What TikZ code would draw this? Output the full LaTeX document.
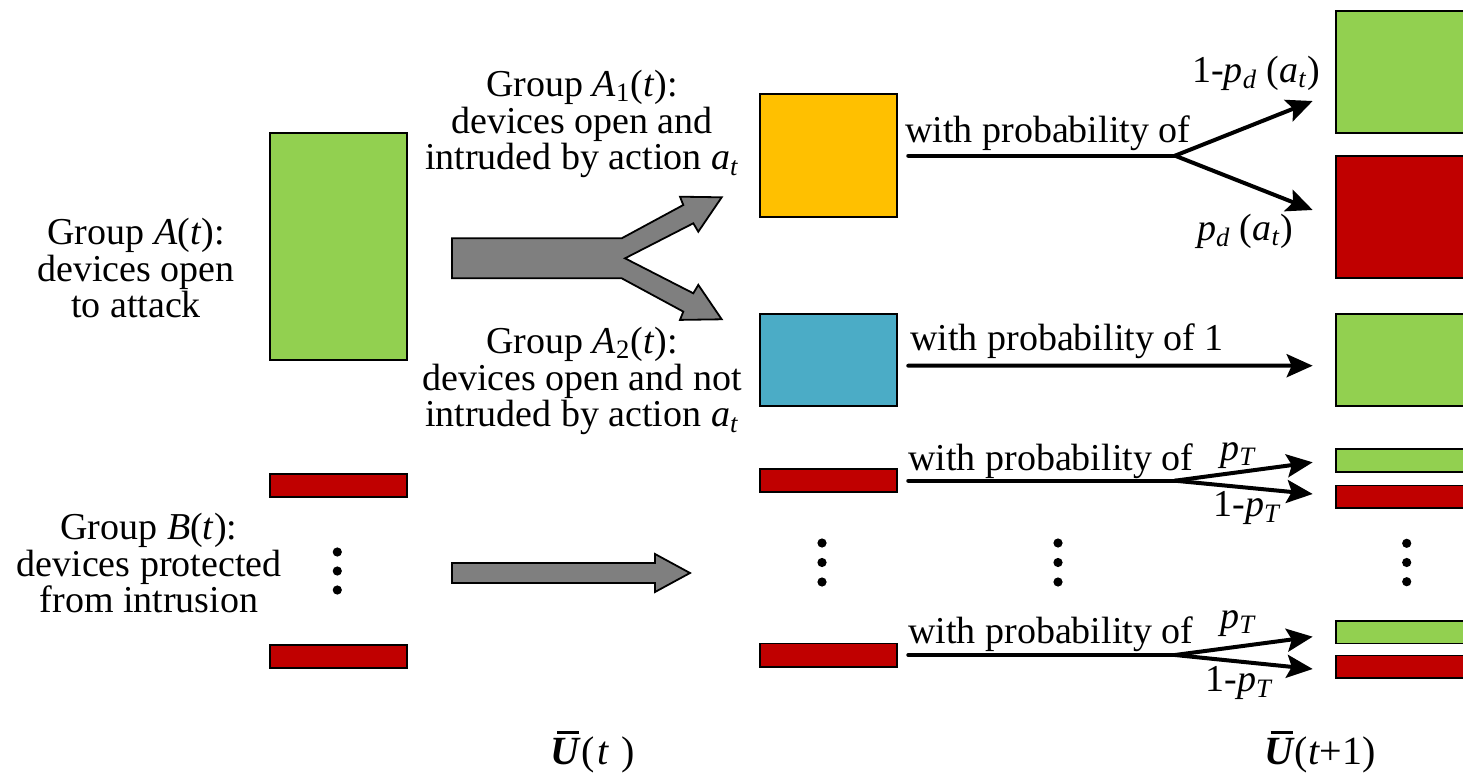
\documentclass[tikz,border=0pt]{standalone}
\usepackage{fontspec}
\setmainfont{LiberationSerif}[Extension=.ttf,UprightFont=*-Regular,BoldFont=*-Bold,ItalicFont=*-Italic,BoldItalicFont=*-BoldItalic]
\usetikzlibrary{arrows.meta,calc}
\definecolor{cgreen}{HTML}{92D050}
\definecolor{cred}{HTML}{C00000}
\definecolor{corange}{HTML}{FFC000}
\definecolor{cblue}{HTML}{4BACC6}
\definecolor{cgray}{HTML}{7F7F7F}
\newcommand{\Ubar}{\leavevmode\rlap{\hspace{0.16em}\rule[0.78em]{0.55em}{0.07em}}\textbf{\textit{U}}}
\begin{document}
\begin{tikzpicture}[x=0.5pt,y=-0.5pt,
  box/.style={draw=black,line width=0.9pt,inner sep=0pt,outer sep=0pt,minimum width=68.35pt},
  rbox/.style={box,minimum width=67.15pt},
  lbl/.style={font=\fontsize{19}{18.4}\selectfont,align=center,inner sep=0pt},
  txt/.style={font=\fontsize{19}{18.4}\selectfont,inner sep=0pt},
  arr/.style={line width=2pt,line cap=round,-{Stealth[length=13pt,width=11.5pt,inset=2.5pt]}},
  ln/.style={line width=2pt,line cap=round},
  dotc/.style={circle,fill=black,inner sep=0pt,minimum size=4.6pt},
  garrow/.style={draw=black,line width=0.9pt,fill=cgray,line join=miter}]
\useasboundingbox (0,0) rectangle (1463,776);

% left column
\node[box,fill=cgreen,minimum height=113.5pt] (gA) at (338.3,246.5) {};
\node[box,fill=cred,minimum height=11.6pt] (rL1) at (338.3,485.2) {};
\node[box,fill=cred,minimum height=11.6pt] (rL2) at (338.3,656.6) {};
\node[dotc] (dl1) at (337.3,552) {};
\node[dotc] (dl2) at (337.3,571) {};
\node[dotc] (dl3) at (337.3,590) {};

% middle column
\node[box,fill=corange,minimum height=61.6pt] (orange) at (828.3,155.7) {};
\node[box,fill=cblue,minimum height=46pt] (blue) at (828.3,360) {};
\node[box,fill=cred,minimum height=11.6pt] (rM1) at (828.3,480.7) {};
\node[box,fill=cred,minimum height=11.6pt] (rM2) at (828.3,655) {};
\node[dotc] (dm1) at (822,543) {};
\node[dotc] (dm2) at (822,562.5) {};
\node[dotc] (dm3) at (822,582) {};
\node[dotc] (dn1) at (1058,543) {};
\node[dotc] (dn2) at (1058,562.5) {};
\node[dotc] (dn3) at (1058,582) {};

% right column
\node[rbox,fill=cgreen,minimum height=61.3pt] (gR1) at (1402.85,72) {};
\node[rbox,fill=cred,minimum height=61.3pt] (rR1) at (1402.85,217) {};
\node[rbox,fill=cgreen,minimum height=46pt] (gR2) at (1402.85,360) {};
\node[rbox,fill=cgreen,minimum height=11.3pt] (gR3) at (1402.85,460.3) {};
\node[rbox,fill=cred,minimum height=11.3pt] (rR3) at (1402.85,496.7) {};
\node[rbox,fill=cgreen,minimum height=11.3pt] (gR4) at (1402.85,632.2) {};
\node[rbox,fill=cred,minimum height=11.3pt] (rR4) at (1402.85,666.7) {};
\node[dotc] (dr1) at (1406.7,543.3) {};
\node[dotc] (dr2) at (1406.7,562.5) {};
\node[dotc] (dr3) at (1406.7,581.7) {};

% gray arrows
\draw[garrow] (452,238.3) -- (621.7,238.3) -- (683.3,205) -- (680,196.7) -- (721.7,197.3)
  -- (698.3,231.7) -- (693.3,223.3) -- (625,258.3) -- (693.3,293.3) -- (698.3,284.9)
  -- (721.7,319.3) -- (680,319.9) -- (683.3,311.6) -- (621.7,278.3) -- (452,278.3) -- cycle;
\draw[garrow] (452,563) -- (655,563) -- (655,554) -- (690,573) -- (655,592) -- (655,583) -- (452,583) -- cycle;

% coordinates for connectors
\coordinate (f1) at (1175,155.7);
\coordinate (t1a) at (1312.7,101);
\coordinate (t1b) at (1312.7,210);
\coordinate (t2) at (1312.7,365.7);
\coordinate (f3) at (1175,480.7);
\coordinate (t3a) at (1312.7,462.3);
\coordinate (t3b) at (1312.7,494);
\coordinate (f4) at (1175,655);
\coordinate (t4a) at (1312.7,636.7);
\coordinate (t4b) at (1312.7,669);

\draw[ln] ([xshift=5.8pt]orange.east) -- (f1);
\draw[arr] (f1) -- (t1a);
\draw[arr] (f1) -- (t1b);
\draw[arr] ([xshift=5.8pt,yshift=-2.85pt]blue.east) -- (t2);
\draw[ln] ([xshift=5.8pt]rM1.east) -- (f3);
\draw[arr] (f3) -- (t3a);
\draw[arr] (f3) -- (t3b);
\draw[ln] ([xshift=5.8pt]rM2.east) -- (f4);
\draw[arr] (f4) -- (t4a);
\draw[arr] (f4) -- (t4b);

% texts
\node[lbl] (tA) at (136,268) {Group \textit{A}(\textit{t}):\\devices open\\to attack};
\node[lbl] (tB) at (149,563) {Group \textit{B}(\textit{t}):\\devices protected\\from intrusion};
\node[lbl] (tA1) at (582,124) {Group \textit{A}\textsubscript{1}(\textit{t}):\\devices open and\\intruded by action \textit{a}\textsubscript{\textit{t}}};
\node[lbl] (tA2) at (582,381) {Group \textit{A}\textsubscript{2}(\textit{t}):\\devices open and not\\intruded by action \textit{a}\textsubscript{\textit{t}}};

\node[txt,anchor=base west] (w1) at (905,142.7) {with probability of};
\node[txt,anchor=base west] (w2) at (910,350) {with probability of 1};
\node[txt,anchor=base west] (w3) at (908,470) {with probability of};
\node[txt,anchor=base west] (w4) at (908,643) {with probability of};

\node[txt,anchor=base west] (pd1) at (1191.7,82) {1-\textit{p}\textsubscript{\textit{d}} (\textit{a}\textsubscript{\textit{t}})};
\node[txt,anchor=base west] (pd2) at (1196.7,240) {\textit{p}\textsubscript{\textit{d}} (\textit{a}\textsubscript{\textit{t}})};
\node[txt,anchor=base west] (pt1) at (1220,460) {\textit{p}\textsubscript{\textit{T}}};
\node[txt,anchor=base west] (pt2) at (1213,516.7) {1-\textit{p}\textsubscript{\textit{T}}};
\node[txt,anchor=base west] (pt3) at (1220,628) {\textit{p}\textsubscript{\textit{T}}};
\node[txt,anchor=base west] (pt4) at (1205,691.7) {1-\textit{p}\textsubscript{\textit{T}}};

\node[txt,font=\fontsize{20}{18}\selectfont] (U1) at (593,752) {\Ubar(\hspace{0.08em}\textit{t}\hspace{0.3em})};
\node[txt,font=\fontsize{20}{18}\selectfont] (U2) at (1320,752) {\Ubar(\textit{t}+1)};
\end{tikzpicture}
\end{document}
